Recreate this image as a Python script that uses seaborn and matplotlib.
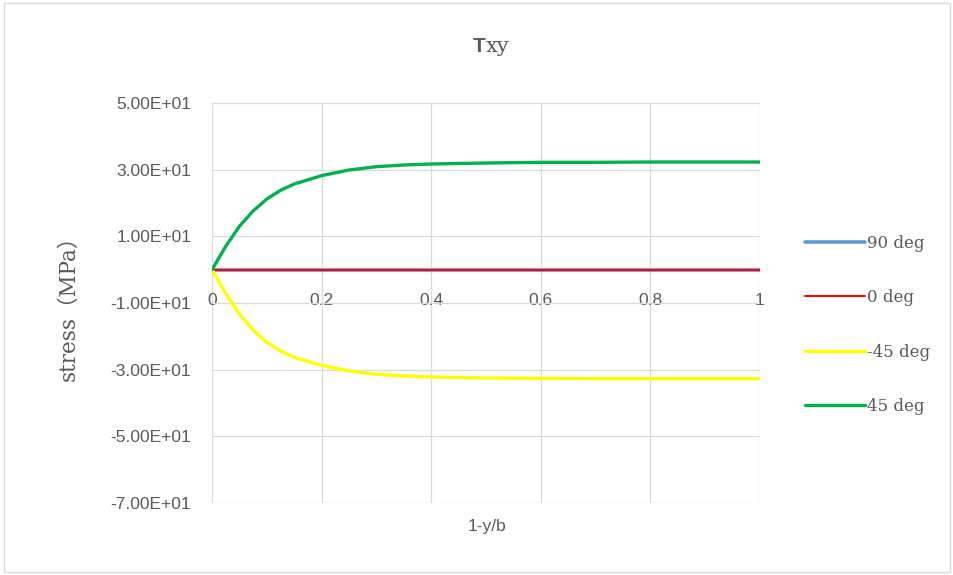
import matplotlib
matplotlib.use("Agg")
import matplotlib.pyplot as plt
from matplotlib.patches import Rectangle
from matplotlib.ticker import FuncFormatter
import seaborn as sns
import pandas as pd

# normalised position through the thickness
x_pos = [0, 0.025, 0.05, 0.075, 0.1, 0.125, 0.15, 0.2, 0.25, 0.3, 0.35,
         0.4, 0.5, 0.6, 0.7, 0.8, 0.9, 1.0]

# shear stress Txy (MPa) for each ply angle
tau_90 = [0.0] * len(x_pos)
tau_0 = [0.0] * len(x_pos)
tau_m45 = [0, -7.1, -13.3, -18.1, -21.8, -24.4, -26.3, -28.7, -30.4, -31.4,
           -31.9, -32.2, -32.5, -32.6, -32.7, -32.7, -32.7, -32.7]
tau_p45 = [0, 7.0, 13.0, 17.6, 21.2, 23.8, 25.7, 28.2, 29.9, 30.9,
           31.4, 31.7, 32.0, 32.2, 32.2, 32.3, 32.3, 32.3]

series_names = ["90 deg", "0 deg", "-45 deg", "45 deg"]
series_values = [tau_90, tau_0, tau_m45, tau_p45]
series_colors = ["#5B9BD5", "#FF0000", "#FFFF00", "#00B050"]
series_widths = [2.6, 1.5, 2.4, 2.4]

y_ticks = [-70, -50, -30, -10, 10, 30, 50]
x_ticks = [0, 0.2, 0.4, 0.6, 0.8, 1.0]
x_tick_labels = ["0", "0.2", "0.4", "0.6", "0.8", "1"]

sns.set_theme(style="white")
plt.rcParams["font.family"] = ["Liberation Sans", "DejaVu Sans"]

grey = "#595959"
fig = plt.figure(figsize=(9.54, 5.75), dpi=100)
ax = fig.add_axes([212 / 954, 1 - 503 / 575, 548 / 954, 400 / 575])

for name, vals, col, lw in zip(series_names, series_values, series_colors, series_widths):
    df = pd.DataFrame({"x": x_pos, "stress": vals})
    sns.lineplot(data=df, x="x", y="stress", ax=ax, color=col, linewidth=lw,
                 label=name, errorbar=None, sort=True)

ax.set_xlim(0, 1)
ax.set_ylim(-70, 50)
ax.set_yticks(y_ticks)
ax.yaxis.set_major_formatter(FuncFormatter(lambda v, p: f"{v:.2E}"))
ax.set_xticks(x_ticks)
ax.set_xticklabels(x_tick_labels)

ax.grid(True, color="#D9D9D9", linewidth=0.9)
ax.set_axisbelow(True)
for s in ax.spines.values():
    s.set_visible(False)
ax.spines["bottom"].set_position(("data", 0))

ax.tick_params(axis="both", length=0, labelsize=12.5, labelcolor=grey)
ax.tick_params(axis="y", pad=15)
ax.tick_params(axis="x", pad=17)

ax.set_xlabel("")
ax.set_ylabel("stress\uff08MPa\uff09", family=["DejaVu Serif", "Noto Sans CJK SC"],
              fontsize=15.5, color=grey, labelpad=22)
fig.text(487 / 954, 1 - 527 / 575, "1-y/b", ha="center", va="center",
         fontsize=12.5, color=grey)
fig.text(479 / 954, 1 - 47 / 575, "T", ha="center", va="center",
         fontsize=15, color=grey, fontweight="bold")
fig.text(486 / 954, 1 - 47 / 575, "xy", ha="left", va="center",
         fontsize=15, color=grey, family="DejaVu Serif")

handles, labels = ax.get_legend_handles_labels()
ax.legend_.remove()
fig.legend(handles, labels, loc="center left",
           bbox_to_anchor=(790 / 954, 1 - 325 / 575), frameon=False,
           prop={"family": "DejaVu Serif", "size": 12},
           labelcolor=grey, handlelength=3.6, handletextpad=0.15,
           labelspacing=2.25)

fig.patches.append(Rectangle((4 / 954, 3 / 575), 946 / 954, 569 / 575,
                             transform=fig.transFigure, fill=False,
                             edgecolor="#D9D9D9", linewidth=1))

fig.savefig("out.png", dpi=100)
